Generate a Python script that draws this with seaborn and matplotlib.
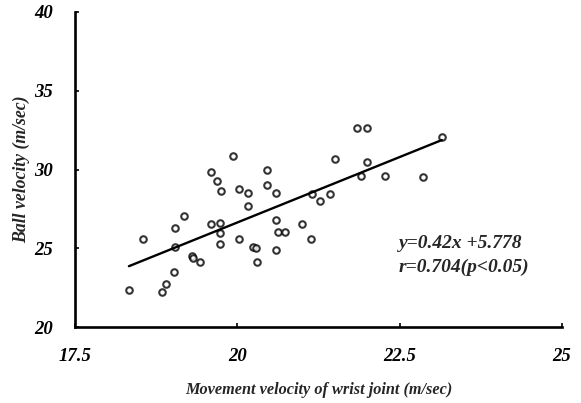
import numpy as np
import pandas as pd
import matplotlib
matplotlib.use("Agg")
import matplotlib.pyplot as plt
import seaborn as sns

wrist_velocity = [18.33, 18.54, 18.84, 18.90, 19.02, 19.04, 19.04, 19.18, 19.30, 19.32,
                  19.42, 19.60, 19.60, 19.68, 19.74, 19.74, 19.75, 19.74, 19.93, 20.03,
                  20.03, 20.16, 20.16, 20.24, 20.28, 20.30, 20.45, 20.45, 20.59, 20.59,
                  20.59, 20.62, 20.73, 21.00, 21.15, 21.14, 21.27, 21.42, 21.50, 21.85,
                  21.99, 21.99, 21.90, 22.28, 22.86, 23.15]
ball_velocity = [22.33, 25.57, 22.20, 22.75, 23.51, 25.10, 26.29, 27.03, 24.49, 24.36,
                 24.13, 26.54, 29.82, 29.29, 26.60, 25.99, 28.62, 25.27, 30.84, 28.76,
                 25.57, 28.51, 27.68, 25.08, 25.02, 24.13, 29.97, 29.02, 28.51, 26.77,
                 24.89, 26.01, 26.01, 26.52, 28.43, 25.61, 28.00, 28.43, 30.69, 32.65,
                 32.65, 30.48, 29.61, 29.61, 29.52, 32.04]
x_ticks = [17.5, 20, 22.5, 25]
y_ticks = [20, 25, 30, 35, 40]
x_tick_labels = ["17.5", "20", "22.5", "25"]
y_tick_labels = ["20", "25", "30", "35", "40"]
equation_text = "y=0.42x +5.778"
r_text = "r=0.704(p<0.05)"

df = pd.DataFrame({"wrist": wrist_velocity, "ball": ball_velocity})

sns.set_style("ticks")
plt.rcParams['font.family'] = ['Liberation Serif', 'DejaVu Serif']

fig = plt.figure(figsize=(5.81, 4.03), dpi=100)
ax = fig.add_axes([75/581, 1 - 327/403, 487/581, 315/403])

sns.regplot(data=df, x="wrist", y="ball", ax=ax, ci=None, truncate=True,
            scatter_kws=dict(s=22, facecolors="white", edgecolors="black", linewidths=1.5),
            line_kws=dict(color="black", lw=1.7))

ax.set_xlim(17.5, 25)
ax.set_ylim(20, 40)
ax.set_xticks(x_ticks)
ax.set_xticklabels(x_tick_labels)
ax.set_yticks(y_ticks)
ax.set_yticklabels(y_tick_labels)
ax.tick_params(direction="in", length=3, width=1.2, colors="black")
ax.tick_params(axis="x", pad=15)
ax.tick_params(axis="y", pad=16)
for lab in ax.get_xticklabels() + ax.get_yticklabels():
    lab.set_fontweight("bold")
    lab.set_fontstyle("italic")
    lab.set_fontsize(13.5)

for s in ["top", "right"]:
    ax.spines[s].set_visible(False)
for s in ["left", "bottom"]:
    ax.spines[s].set_linewidth(1.9)
    ax.spines[s].set_color("black")

ax.set_xlabel("Movement velocity of wrist joint (m/sec)", fontsize=11.7,
              fontweight="bold", fontstyle="italic", labelpad=12)
ax.set_ylabel("Ball velocity (m/sec)", fontsize=12.8,
              fontweight="bold", fontstyle="italic", labelpad=2.5)

ax.text(22.49, 25.33, equation_text, fontsize=14, fontweight="bold", fontstyle="italic",
        ha="left", va="center")
ax.text(22.49, 23.81, r_text, fontsize=14, fontweight="bold", fontstyle="italic",
        ha="left", va="center")

fig.savefig("out.png", dpi=100)
